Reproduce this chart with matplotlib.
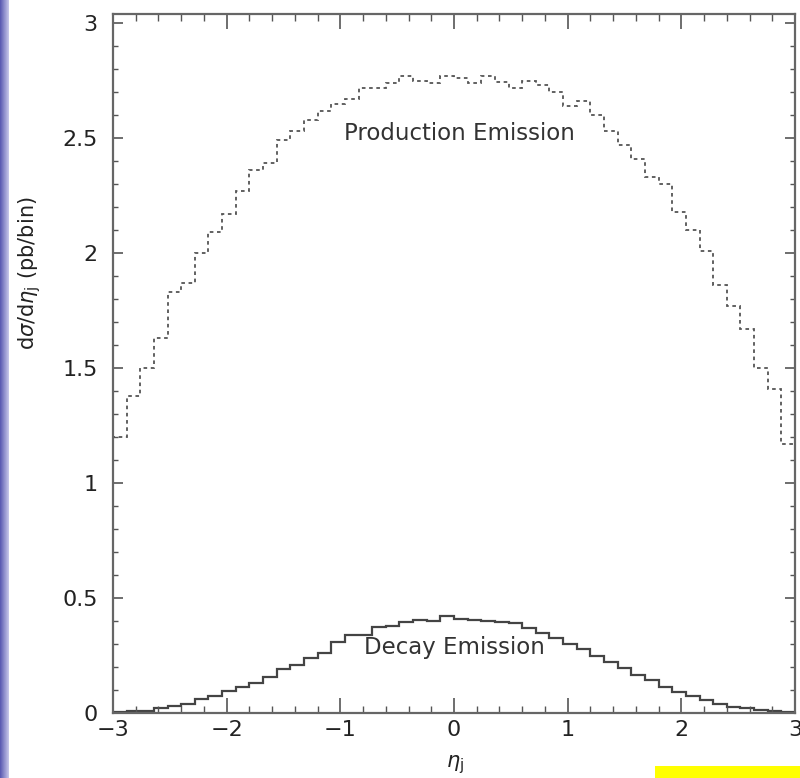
import matplotlib
matplotlib.use("Agg")
import matplotlib.pyplot as plt
from matplotlib.patches import Rectangle
from matplotlib.ticker import MultipleLocator
import numpy as np

# eta_j histogram, 50 bins of 0.12 from -3 to 3
bin_edges = np.linspace(-3.0, 3.0, 51)

production = [1.20, 1.38, 1.50, 1.63, 1.83, 1.87, 2.00, 2.09, 2.17, 2.27,
              2.36, 2.39, 2.49, 2.53, 2.58, 2.62, 2.65, 2.67, 2.72, 2.72,
              2.74, 2.77, 2.75, 2.74, 2.77, 2.76, 2.74, 2.77, 2.745, 2.72,
              2.75, 2.73, 2.70, 2.64, 2.66, 2.60, 2.53, 2.47, 2.41, 2.33,
              2.30, 2.18, 2.10, 2.01, 1.86, 1.77, 1.67, 1.50, 1.41, 1.17]

decay = [0.003, 0.008, 0.01, 0.02, 0.03, 0.04, 0.06, 0.075, 0.095, 0.115,
         0.13, 0.156, 0.19, 0.21, 0.24, 0.26, 0.31, 0.34, 0.34, 0.375,
         0.38, 0.395, 0.405, 0.40, 0.42, 0.41, 0.405, 0.40, 0.395, 0.39,
         0.37, 0.35, 0.325, 0.30, 0.28, 0.25, 0.22, 0.195, 0.165, 0.145,
         0.115, 0.09, 0.075, 0.055, 0.04, 0.027, 0.02, 0.012, 0.008, 0.003]

W, H = 800, 778
fig = plt.figure(figsize=(W / 100, H / 100), dpi=100)
fig.patch.set_facecolor("white")

ax = fig.add_axes([113 / W, 65 / H, 682 / W, 699 / H])
ax.stairs(production, bin_edges, color="#555555", lw=1.3, linestyle=(0, (2, 2)))
ax.stairs(decay, bin_edges, color="#444444", lw=1.6)

ax.set_xlim(-3, 3)
ax.set_ylim(0, 3.04)
ax.xaxis.set_major_locator(MultipleLocator(1))
ax.xaxis.set_minor_locator(MultipleLocator(0.2))
ax.yaxis.set_major_locator(MultipleLocator(0.5))
ax.yaxis.set_minor_locator(MultipleLocator(0.1))
ax.set_yticks([0, 0.5, 1, 1.5, 2, 2.5, 3])
ax.set_yticklabels(["0", "0.5", "1", "1.5", "2", "2.5", "3"])

ax.tick_params(axis="both", which="both", direction="in", top=True, right=True,
               color="#555555", labelcolor="#222222", labelsize=16)
ax.tick_params(axis="x", which="major", length=11, width=1.2, pad=5)
ax.tick_params(axis="x", which="minor", length=5, width=1.0)
ax.tick_params(axis="y", which="major", length=7, width=1.2, pad=11)
ax.tick_params(axis="y", which="minor", length=3.5, width=1.0)
for s in ax.spines.values():
    s.set_color("#666666")
    s.set_linewidth(1.6)

ax.text(0.05, 2.52, "Production Emission", ha="center", va="center",
        fontsize=16.5, color="#333333")
ax.text(0.0, 0.285, "Decay Emission", ha="center", va="center",
        fontsize=16.5, color="#333333")

fig.text(30 / W, 1 - 273 / H, r"d$\sigma$/d$\eta_{\rm j}$ (pb/bin)", rotation=90,
         ha="center", va="center", fontsize=15, color="#222222")
fig.text(455 / W, 1 - 765 / H, r"$\eta_{\rm j}$", ha="center", va="center",
         fontsize=15, color="#222222")

# slide decoration: blue strip on the left, yellow bar bottom right
strip = fig.add_axes([0, 0, 9 / W, 1])
grad = np.linspace(0, 1, 32).reshape(1, -1)
strip.imshow(grad, aspect="auto", cmap=matplotlib.colors.LinearSegmentedColormap.from_list(
    "s", ["#5858b0", "#c8c8ea"]), extent=[0, 1, 0, 1])
strip.set_axis_off()
fig.patches.append(Rectangle((655 / W, 0), 145 / W, 12 / H, transform=fig.transFigure,
                             facecolor="#ffff00", edgecolor="none"))

fig.savefig("out.png", dpi=100)
